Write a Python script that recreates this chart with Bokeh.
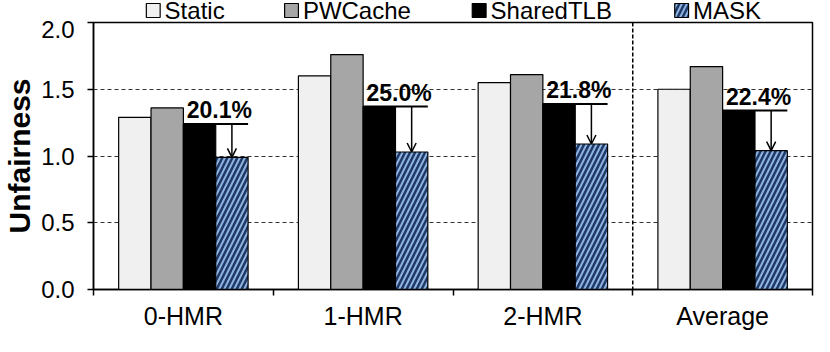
from bokeh.plotting import figure
from bokeh.layouts import column
from bokeh.models import (ColumnDataSource, FixedTicker, Span, Arrow, OpenHead,
                          Range1d, NumeralTickFormatter)
from bokeh.core.properties import value
from bokeh.embed import file_html
from bokeh.resources import INLINE

categories = ["0-HMR", "1-HMR", "2-HMR", "Average"]
series = ["Static", "PWCache", "SharedTLB", "MASK"]
static = [1.29, 1.60, 1.55, 1.50]
pwcache = [1.36, 1.76, 1.61, 1.67]
sharedtlb = [1.24, 1.37, 1.39, 1.34]
mask = [0.99, 1.03, 1.09, 1.04]
reduction_labels = ["20.1%", "25.0%", "21.8%", "22.4%"]
y_ticks = [0.0, 0.5, 1.0, 1.5, 2.0]

FONT = "Liberation Sans"
bar_w = 0.18
offsets = [-0.27, -0.09, 0.09, 0.27]
centers = [i + 0.5 for i in range(len(categories))]
BORDER_L, BORDER_R, W = 84, 2, 814

styles = [
    dict(fill_color="#F0F0F0"),
    dict(fill_color="#A6A6A6"),
    dict(fill_color="#000000"),
    dict(fill_color="#1F3864", hatch_pattern="/", hatch_color="#8DB3E2",
         hatch_scale=10, hatch_weight=2),
]

# ---- legend strip (pixel-mapped ranges) ----
LEG_H = 20
leg = figure(width=W, height=LEG_H, output_backend="svg", toolbar_location=None,
             x_range=Range1d(BORDER_L, W - BORDER_R), y_range=Range1d(0, LEG_H),
             x_axis_location=None, y_axis_location=None,
             min_border_left=BORDER_L, min_border_right=BORDER_R,
             min_border_top=0, min_border_bottom=0)
leg.grid.visible = False
leg.outline_line_color = None
leg.background_fill_color = "white"
leg.border_fill_color = "white"
legend_item_left = [137, 277, 467, 672]   # layout positions of legend entries (px)
for name, left, st in zip(series, legend_item_left, styles):
    leg.rect(x=[left + 7.5], y=[LEG_H / 2], width=14, height=14, line_color="black",
             line_width=1.2, **st)
    leg.text(x=[left + 19], y=[LEG_H / 2], text=[name], text_font=value(FONT),
             text_font_size="24px", text_baseline="middle", text_align="left",
             text_color="black")

# ---- main chart ----
p = figure(width=W, height=312, output_backend="svg", toolbar_location=None,
           x_range=Range1d(0, len(categories)), y_range=Range1d(0, 2.0),
           min_border_left=BORDER_L, min_border_right=BORDER_R, min_border_top=2,
           min_border_bottom=0)

values = [static, pwcache, sharedtlb, mask]
for k, (vals, st) in enumerate(zip(values, styles)):
    src = ColumnDataSource(dict(x=[c + offsets[k] for c in centers], top=vals))
    p.vbar(x="x", top="top", width=bar_w, source=src, line_color="black",
           line_width=1.2, **st)

# reduction annotations
seg_x0 = [c + offsets[2] - bar_w / 2 for c in centers]
seg_x1 = [c + offsets[3] + bar_w / 2 for c in centers]
p.segment(x0=seg_x0, y0=sharedtlb, x1=seg_x1, y1=sharedtlb, line_color="black", line_width=2)
arr_src = ColumnDataSource(dict(x=[c + offsets[3] for c in centers], y0=sharedtlb, y1=mask))
p.add_layout(Arrow(end=OpenHead(size=9, line_width=1.5, line_color="black"),
                   x_start="x", y_start="y0", x_end="x", y_end="y1",
                   line_width=1.5, line_color="black", source=arr_src))
p.text(x=[(a + b) / 2 + 0.02 for a, b in zip(seg_x0, seg_x1)], y=sharedtlb,
       text=reduction_labels, text_font=value(FONT), text_font_style="bold",
       text_font_size="23px", text_align="center", text_baseline="bottom",
       y_offset=-1, text_color="black")

# separator before Average
p.add_layout(Span(location=3, dimension="height", line_color="black",
                  line_dash="4 2", line_width=1.5))

# axes
p.xgrid.visible = False
p.ygrid.ticker = FixedTicker(ticks=[0.5, 1.0, 1.5])
p.ygrid.grid_line_color = "#333333"
p.ygrid.grid_line_dash = "4 3"
p.ygrid.grid_line_width = 1

xa = p.xaxis[0]
xa.ticker = FixedTicker(ticks=centers, minor_ticks=list(range(len(categories) + 1)))
xa.major_label_overrides = {c: n for c, n in zip(centers, categories)}
xa.major_tick_out = 0
xa.major_tick_in = 0
xa.minor_tick_out = 6
xa.minor_tick_in = 0
xa.minor_tick_line_color = "black"
xa.minor_tick_line_width = 1.5
xa.axis_line_width = 1.5
xa.axis_line_color = "black"
xa.major_label_text_font = FONT
xa.major_label_text_font_size = "25px"
xa.major_label_text_color = "black"
xa.major_label_standoff = 6

ya = p.yaxis[0]
ya.ticker = FixedTicker(ticks=y_ticks)
ya.formatter = NumeralTickFormatter(format="0.0")
ya.minor_tick_line_color = None
ya.major_tick_out = 6
ya.major_tick_in = 0
ya.major_tick_line_width = 1.5
ya.axis_line_width = 1.5
ya.axis_line_color = "black"
ya.major_label_text_font = FONT
ya.major_label_text_font_size = "24px"
ya.major_label_text_color = "black"
ya.major_label_standoff = 13
ya.axis_label = "Unfairness"
ya.axis_label_text_font = FONT
ya.axis_label_text_font_style = "bold"
ya.axis_label_text_font_size = "30px"
ya.axis_label_text_color = "black"
ya.axis_label_standoff = 2

p.outline_line_color = "black"
p.outline_line_width = 1.5
p.background_fill_color = "white"
p.border_fill_color = "white"

layout = column(leg, p, spacing=0)
open("out.html", "w").write(file_html(layout, INLINE))
